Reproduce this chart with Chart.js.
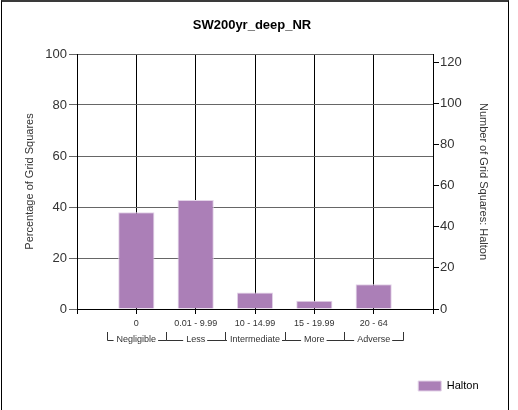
<!DOCTYPE html>
<html>
<head>
<meta charset="utf-8">
<script src="https://cdn.jsdelivr.net/npm/chart.js@4"></script>
<style>
  body { margin: 0; background: #fff; }
  #wrap { position: relative; width: 518px; height: 410px; }
  #frame {
    position: absolute; left: 1px; top: 0; width: 508px; height: 410px;
    border-left: 1px solid #000; border-right: 1px solid #000; border-top: 2px solid #3a3a3a;
    box-sizing: border-box; pointer-events: none;
  }
</style>
</head>
<body>
<div id="wrap">
  <canvas id="chart" width="518" height="410"></canvas>
  <div id="frame"></div>
</div>
<script>
// categories on the x axis (empty ones are the padding slots at both ends)
const categories = ["", "0", "0.01 - 9.99", "10 - 14.99", "15 - 19.99", "20 - 64", ""];
// grouping row under the ranges
const groupNames = ["Negligible", "Less", "Intermediate", "More", "Adverse"];
// percentage of grid squares, Halton
const haltonPct = [null, 37.9, 42.7, 6.5, 3.2, 9.7, null];
// right axis: number of grid squares
const countMin = 0;
const countMax = 124;

Chart.defaults.font.family = "'Liberation Sans', Arial, sans-serif";

// draws the "└ Negligible ─┴─ Less ─┘" row under the tick labels
const groupRow = {
  id: "groupRow",
  afterDraw(chart) {
    const x = chart.scales.x;
    const ctx = chart.ctx;
    const yLine = Math.round(x.top + 31) + 0.5;
    const yTop = x.top + 23;
    ctx.save();
    ctx.font = "9px 'Liberation Sans', Arial, sans-serif";
    ctx.textAlign = "center";
    ctx.textBaseline = "middle";
    ctx.strokeStyle = "#333";
    ctx.lineWidth = 1;
    groupNames.forEach((name, i) => {
      const left = Math.round(x.getPixelForValue(i + 0.5)) + 0.5;
      const right = Math.round(x.getPixelForValue(i + 1.5)) + 0.5;
      const mid = x.getPixelForValue(i + 1);
      const w = ctx.measureText(name).width;
      ctx.fillStyle = "#333";
      ctx.fillText(name, mid, yLine - 1);
      ctx.beginPath();
      ctx.moveTo(left, yTop);
      ctx.lineTo(left, yLine);
      ctx.lineTo(Math.max(left, mid - w / 2 - 3), yLine);
      ctx.moveTo(Math.min(right, mid + w / 2 + 2), yLine);
      ctx.lineTo(right, yLine);
      ctx.lineTo(right, yTop);
      ctx.stroke();
    });
    ctx.restore();
  }
};

new Chart(document.getElementById("chart"), {
  type: "bar",
  data: {
    labels: categories,
    datasets: [{
      label: "Halton",
      data: haltonPct,
      backgroundColor: "#ab7fb7",
      borderColor: "#e3d3e8",
      borderWidth: 1,
      categoryPercentage: 1,
      barPercentage: 0.61,
      yAxisID: "y"
    }]
  },
  options: {
    responsive: false,
    animation: false,
    layout: { padding: { left: 11, right: 25, top: 0, bottom: 8.5 } },
    plugins: {
      title: {
        display: true,
        text: "SW200yr_deep_NR",
        color: "#000",
        font: { size: 13, weight: "bold" },
        padding: { top: 17.2, bottom: 21.2 }
      },
      legend: {
        position: "bottom",
        align: "end",
        labels: { boxWidth: 23, boxHeight: 10, padding: 14.5, color: "#000", font: { size: 11 } }
      },
      tooltip: { enabled: false }
    },
    scales: {
      x: {
        type: "category",
        offset: false,
        grid: { offset: false, color: "#000", tickLength: 5 },
        border: { color: "#000" },
        ticks: { color: "#333", font: { size: 9 }, padding: 4, maxRotation: 0, autoSkip: false },
        afterFit(s) { s.height = 57; }
      },
      y: {
        position: "left",
        min: 0,
        max: 100,
        ticks: { stepSize: 20, color: "#333", font: { size: 13 }, padding: 2 },
        grid: { color: "#666", tickLength: 8 },
        border: { color: "#000" },
        title: {
          display: true,
          text: "Percentage of Grid Squares",
          color: "#333",
          font: { size: 11 },
          padding: { top: 11.9, bottom: 0 }
        },
        afterFit(s) { s.width = 66; }
      },
      y1: {
        position: "right",
        min: countMin,
        max: countMax,
        ticks: { stepSize: 20, includeBounds: false, color: "#333", font: { size: 13 }, padding: 1 },
        grid: { drawOnChartArea: false, color: "#000", tickLength: 6 },
        border: { color: "#000" },
        title: {
          display: true,
          text: "Number of Grid Squares: Halton",
          color: "#333",
          font: { size: 11 },
          padding: { top: 2.9, bottom: 0 }
        },
        afterFit(s) { s.width = 60; }
      }
    }
  },
  plugins: [groupRow]
});
</script>
</body>
</html>
